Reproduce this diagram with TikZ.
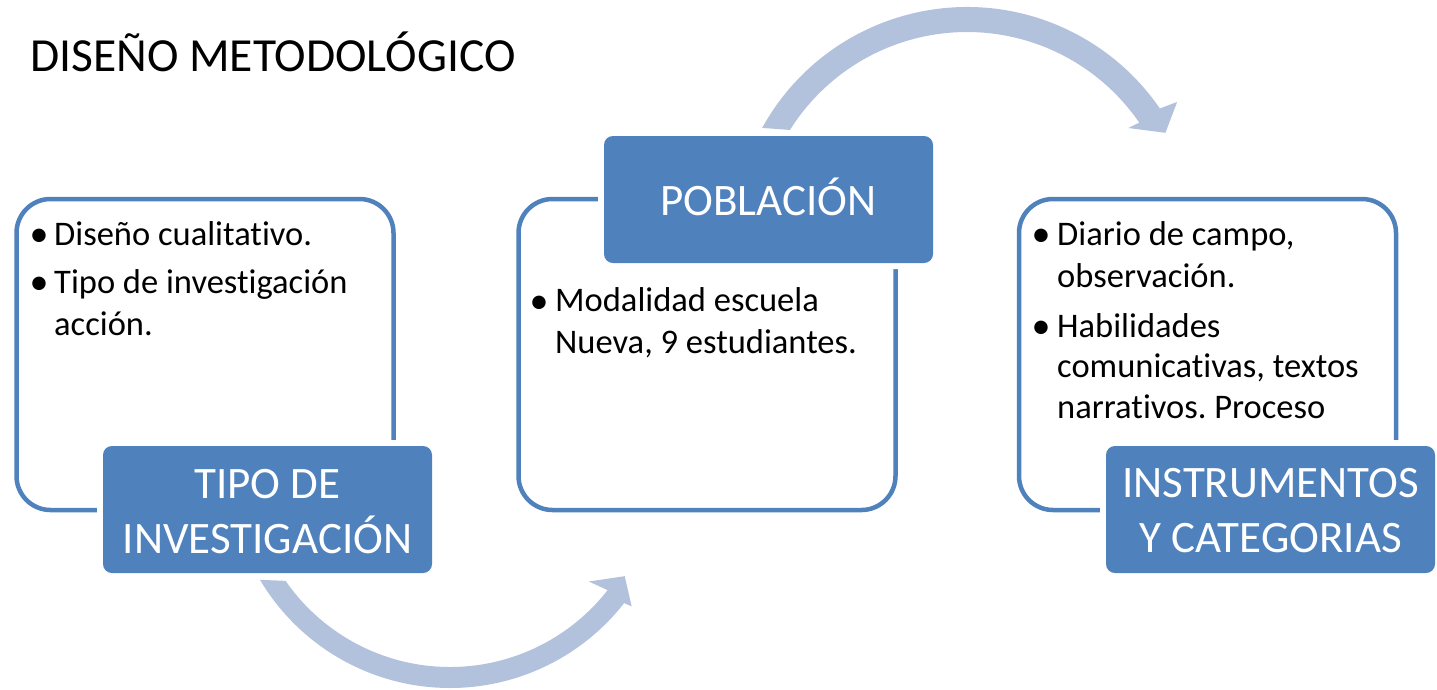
\documentclass[tikz,border=0pt]{standalone}
\usepackage{fontspec}
\setmainfont[Ligatures=NoCommon]{Carlito}
\usetikzlibrary{calc}
\frenchspacing
\definecolor{boxblue}{RGB}{79,129,189}
\definecolor{arrowblue}{RGB}{179,194,220}
\tikzset{
  outlinebox/.style={draw=boxblue, line width=4.5pt, rounded corners=34pt, fill=white, inner sep=0pt, outer sep=0pt},
  bluebox/.style={fill=boxblue, rounded corners=9pt, inner sep=0pt, outer sep=0pt, preaction={draw=white, line width=12pt}},
  bluetext/.style={text=white, align=center, anchor=base, inner sep=0pt, font=\fontsize{45}{55}\selectfont},
  bullettext/.style={anchor=base west, align=left, inner sep=0pt, font=\fontsize{34.5}{42}\selectfont\frenchspacing},
  bulletdot/.style={anchor=base, inner sep=0pt, font=\fontsize{38}{42}\selectfont},
  arrowshape/.style={fill=arrowblue}
}
\begin{document}
\begin{tikzpicture}[x=1pt,y=-1pt]
\useasboundingbox (0,0) rectangle (1437,689);
% title
\node[anchor=base west, inner sep=0pt, font=\fontsize{47.5}{57}\selectfont] (title) at (30,71) {DISEÑO METODOLÓGICO};
% curved arrows
\coordinate (bc) at (450,467);
\fill[arrowshape] ($(bc)+(149.3:221)$) arc[start angle=149.3, end angle=38, radius=221]
  -- ($(bc)+(37.5:229)$) -- ($(bc)+(32:206)$) -- ($(bc)+(39.5:180)$) -- ($(bc)+(38:200)$)
  arc[start angle=38, end angle=145.3, radius=200] -- cycle;
\coordinate (tc) at (967,241);
\fill[arrowshape] ($(tc)+(208.9:234)$) arc[start angle=208.9, end angle=325.5, radius=234]
  -- ($(tc)+(326.5:252)$) -- ($(tc)+(331.4:226)$) -- ($(tc)+(325:197)$) -- ($(tc)+(325.5:209)$)
  arc[start angle=325.5, end angle=212.1, radius=209] -- cycle;
% outline boxes
\node[outlinebox, minimum width=377pt, minimum height=311pt] (o1) at (205,354.5) {};
\node[outlinebox, minimum width=377pt, minimum height=311pt] (o2) at (707,354.5) {};
\node[outlinebox, minimum width=377pt, minimum height=311pt] (o3) at (1207.5,354.5) {};
% blue header boxes
\node[bluebox, minimum width=329pt, minimum height=127pt] (b1) at (267.5,509.5) {};
\node[bluebox, minimum width=329pt, minimum height=127pt] (b2) at (768.5,199.5) {};
\node[bluebox, minimum width=329pt, minimum height=127pt] (b3) at (1270.5,509.5) {};
% (multi-line nodes: anchor is the baseline of the last line)
\node[bluetext] (t1) at (267.5,553) {TIPO DE\\INVESTIGACIÓN};
\node[bluetext] (t2) at (768.5,215) {POBLACIÓN};
\node[bluetext] (t3) at (1270.5,552) {INSTRUMENTOS\\Y CATEGORIAS};
% box 1 bullets
\node[bulletdot] (d11) at (39,246) {•};
\node[bullettext] (p11) at (54,245) {Diseño cualitativo.};
\node[bulletdot] (d12) at (39,294) {•};
\node[bullettext] (p12) at (54,335) {Tipo de investigación\\acción.};
% box 2 bullets
\node[bulletdot] (d21) at (539,313) {•};
\node[bullettext] (p21) at (555,353) {Modalidad escuela\\Nueva, 9 estudiantes.};
% box 3 bullets
\node[bulletdot] (d31) at (1041,246) {•};
\node[bullettext] (p31) at (1057,287) {Diario de campo,\\observación.};
\node[bulletdot] (d32) at (1041,338) {•};
\node[bullettext, font=\fontsize{34.5}{40.5}\selectfont\frenchspacing] (p32) at (1057,418) {Habilidades\\comunicativas, textos\\narrativos. Proceso};
\end{tikzpicture}
\end{document}
